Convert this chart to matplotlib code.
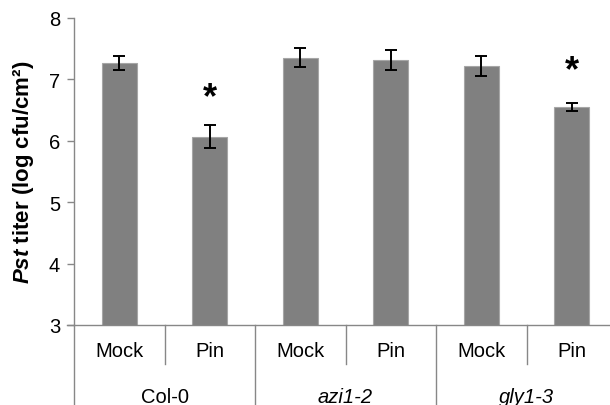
import numpy as np
import matplotlib.pyplot as plt
import matplotlib as mpl
import matplotlib.transforms as mtransforms

mpl.rcParams["font.family"] = ["Liberation Sans", "DejaVu Sans"]
mpl.rcParams["mathtext.fontset"] = "custom"
mpl.rcParams["mathtext.rm"] = "Liberation Sans:bold"
mpl.rcParams["mathtext.it"] = "Liberation Sans:italic:bold"

# Pst titer per genotype / treatment
genotypes  = ["Col-0", "azi1-2", "gly1-3"]
treatments = ["Mock", "Pin"]
means  = [7.27, 6.07, 7.35, 7.31, 7.22, 6.545]
errors = [0.115, 0.18, 0.155, 0.165, 0.165, 0.065]
signif = [False, True, False, False, False, True]
star_y = [None, 6.70, None, None, None, 7.14]

AX_GREY = "#878787"

fig = plt.figure(figsize=(6.10, 4.06), dpi=100)
ax = fig.add_axes([74 / 610, 80 / 406, 1 - 74 / 610, 307 / 406])

x = np.arange(len(means))
ax.bar(x, means, width=0.39, bottom=0, color="#808080",
       edgecolor="#a6a6a6", linewidth=0.8, zorder=2)
ax.errorbar(x, means, yerr=errors, fmt="none", ecolor="black",
            elinewidth=1.4, capsize=4.4, capthick=1.4, zorder=3)

for xi, s, sy in zip(x, signif, star_y):
    if s:
        ax.text(xi, sy, "*", ha="center", va="center", fontsize=26,
                fontweight="bold", color="black")

ax.set_ylim(3, 8)
ax.set_xlim(-0.5, -0.5 + (610 - 74) / 90.5)
ax.set_yticks([3, 4, 5, 6, 7, 8])
ax.set_xticks([])
for side in ("top", "right", "bottom"):
    ax.spines[side].set_visible(False)
ax.spines["left"].set_color(AX_GREY)
ax.spines["left"].set_linewidth(1.0)
ax.tick_params(axis="y", length=5, width=1.0, color=AX_GREY,
               labelsize=14.5, pad=5)

ax.set_ylabel("$\\it{Pst}$ titer (log cfu/cm²)", fontsize=16,
              fontweight="bold", labelpad=9)

# category axis below the plot: baseline, separators and two label rows
trans = mtransforms.blended_transform_factory(ax.transData, ax.transAxes)
ax.plot([-0.5 - 0.08, 6], [0, 0], color=AX_GREY, lw=1.0,
        transform=trans, clip_on=False, zorder=4)
ax.plot([-0.5, -0.5], [0, -0.27], color=AX_GREY, lw=1.0,
        transform=trans, clip_on=False)
for g in range(len(genotypes)):
    mid = 2 * g + 0.5
    ax.plot([mid, mid], [0, -0.127], color=AX_GREY, lw=1.0,
            transform=trans, clip_on=False)
    if g > 0:
        ax.plot([2 * g - 0.5] * 2, [0, -0.27], color=AX_GREY, lw=1.0,
                transform=trans, clip_on=False)
    style = "normal" if g == 0 else "italic"
    ax.text(mid, -0.232, genotypes[g], ha="center", va="center",
            fontsize=14.5, style=style, transform=trans)
    for t, name in enumerate(treatments):
        ax.text(2 * g + t, -0.084, name, ha="center", va="center",
                fontsize=14.5, transform=trans)

fig.savefig("out.png", dpi=100)
